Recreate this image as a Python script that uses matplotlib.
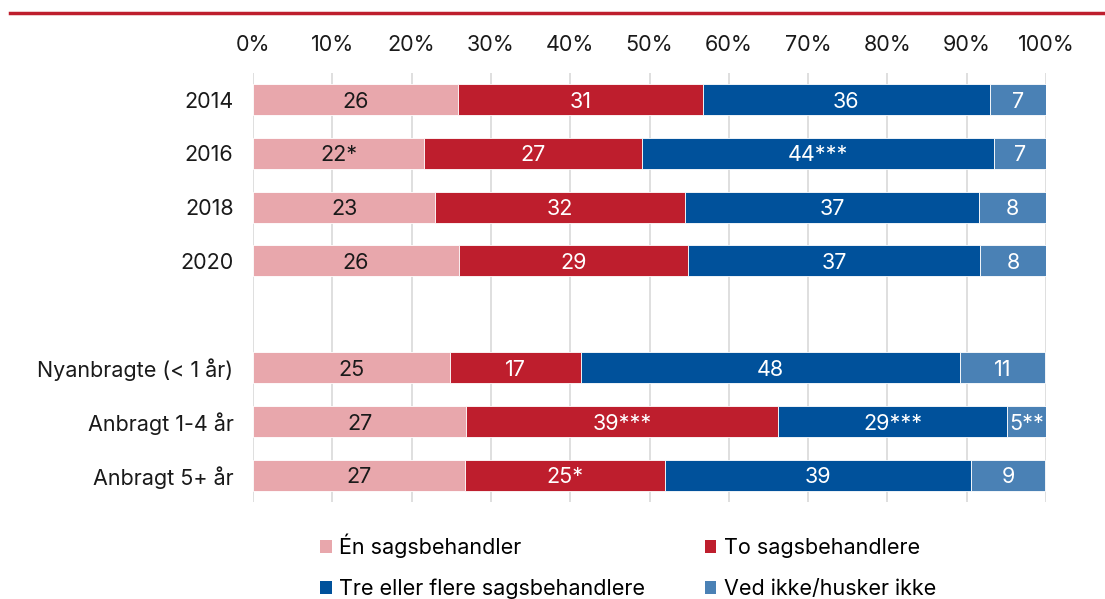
import matplotlib
matplotlib.use("Agg")
import matplotlib.pyplot as plt
from matplotlib.patches import Patch
from matplotlib.lines import Line2D

plt.rcParams['font.family'] = ['Inter', 'DejaVu Sans']

categories = ["2014", "2016", "2018", "2020", "Nyanbragte (< 1 år)", "Anbragt 1-4 år", "Anbragt 5+ år"]
positions = [0, 1, 2, 3, 5, 6, 7]

series_names = ["Én sagsbehandler", "To sagsbehandlere",
                "Tre eller flere sagsbehandlere", "Ved ikke/husker ikke"]

en = [25.9, 21.6, 23.0, 26.0, 24.8, 26.9, 26.7]
to = [30.8, 27.4, 31.5, 28.9, 16.6, 39.3, 25.2]
tre = [36.2, 44.4, 37.1, 36.8, 47.7, 28.9, 38.7]
ved = [7.2, 6.7, 8.4, 8.3, 10.8, 4.9, 9.3]

en_labels = ["26", "22*", "23", "26", "25", "27", "27"]
to_labels = ["31", "27", "32", "29", "17", "39***", "25*"]
tre_labels = ["36", "44***", "37", "37", "48", "29***", "39"]
ved_labels = ["7", "7", "8", "8", "11", "5**", "9"]

colors = ["#E8A7AC", "#BE1E2D", "#00519B", "#4A81B5"]
text_colors = ["#1a1a1a", "white", "white", "white"]

xticks = [0, 10, 20, 30, 40, 50, 60, 70, 80, 90, 100]
xtick_labels = [f"{v}%" for v in xticks]

FS = 15.5

W, H = 1105, 599
fig = plt.figure(figsize=(W / 100, H / 100), dpi=100)
ax = fig.add_axes([253 / W, 1 - 502 / H, (1046 - 253) / W, (502 - 73) / H])

values = [en, to, tre, ved]
labels = [en_labels, to_labels, tre_labels, ved_labels]
left = [0.0] * len(categories)
for vals, labs, col, tcol in zip(values, labels, colors, text_colors):
    bars = ax.barh(positions, vals, left=left, height=0.58, color=col,
                   edgecolor="white", linewidth=0.6, zorder=3)
    texts = ax.bar_label(bars, labels=labs, label_type="center", color=tcol, fontsize=FS)
    for t in texts:
        t.set_va("center_baseline")
    left = [l + v for l, v in zip(left, vals)]

ax.set_xlim(0, 100)
ax.set_ylim(7.5, -0.5)
ax.set_yticks(positions)
ax.set_yticklabels(categories, fontsize=FS, color="#1a1a1a", va="center_baseline")
ax.set_xticks(xticks)
ax.set_xticklabels(xtick_labels, fontsize=FS, color="#1a1a1a")
ax.xaxis.tick_top()
ax.tick_params(axis="both", length=0)
ax.tick_params(axis="y", pad=14)
ax.tick_params(axis="x", pad=13)
ax.grid(axis="x", color="#D9D9D9", linewidth=1.2, zorder=0)
ax.set_axisbelow(True)
for s in ax.spines.values():
    s.set_visible(False)

# red top line
fig.add_artist(Line2D([10 / W, 1.0], [1 - 13 / H, 1 - 13 / H], color="#BE1E2D",
                      linewidth=2.5, transform=fig.transFigure))

order = [0, 2, 1, 3]
handles = [Patch(facecolor=colors[i], edgecolor="none") for i in order]
names = [series_names[i] for i in order]
fig.legend(handles, names, ncol=2, loc="upper left",
           bbox_to_anchor=(320 / W, 1 - 534 / H), frameon=False, fontsize=FS,
           handlelength=0.55, handleheight=0.55, handletextpad=0.35,
           columnspacing=2.75, labelspacing=0.95, borderpad=0, borderaxespad=0)

fig.savefig("out.png", dpi=100)
